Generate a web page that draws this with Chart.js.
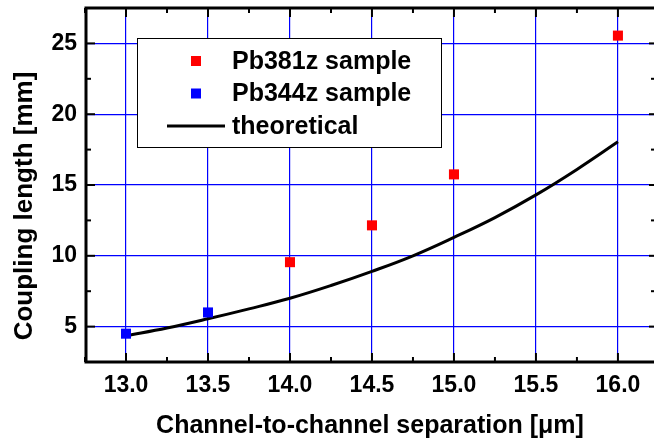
<!DOCTYPE html>
<html>
<head>
<meta charset="utf-8">
<script src="https://cdn.jsdelivr.net/npm/chart.js@4.4.0/dist/chart.umd.min.js"></script>
<style>
  html, body { margin: 0; padding: 0; background: #fff; }
  #wrap { width: 654px; height: 445px; }
</style>
</head>
<body>
<div id="wrap"><canvas id="couplingChart"></canvas></div>
<script>
// measured coupling lengths (mm) vs. channel separation (um)
const pb381zX = [14.0, 14.5, 15.0, 16.0];
const pb381zY = [9.55, 12.15, 15.75, 25.55];
const pb344zX = [13.0, 13.5];
const pb344zY = [4.5, 6.0];
// theoretical curve
const theoryX = [13.0, 13.25, 13.5, 13.75, 14.0, 14.25, 14.5, 14.75, 15.0, 15.25, 15.5, 15.75, 16.0];
const theoryY = [4.35, 4.9, 5.55, 6.25, 7.0, 7.9, 8.9, 10.0, 11.3, 12.7, 14.3, 16.1, 18.05];
// axis ticks
const xTicks = [13.0, 13.5, 14.0, 14.5, 15.0, 15.5, 16.0];
const xMinor = [12.75, 13.25, 13.75, 14.25, 14.75, 15.25, 15.75, 16.25];
const yTicks = [5, 10, 15, 20, 25];
const yMinor = [2.5, 7.5, 12.5, 17.5, 22.5, 27.5];
const yTitle = 'Coupling length [mm]';

const FONT = "'Liberation Sans', Arial, sans-serif";
const toPoints = (xs, ys) => xs.map((x, i) => ({ x: x, y: ys[i] }));

// axis frame with inward tick marks on all four sides, plus the y title
const frame = {
  id: 'frame',
  afterDraw(chart) {
    const { ctx, chartArea: a, scales: { x, y } } = chart;
    ctx.save();
    ctx.strokeStyle = '#000';
    ctx.lineWidth = 2;
    const tick = (x1, y1, x2, y2) => { ctx.beginPath(); ctx.moveTo(x1, y1); ctx.lineTo(x2, y2); ctx.stroke(); };
    xTicks.forEach(v => { const px = x.getPixelForValue(v); tick(px, a.bottom, px, a.bottom - 9); tick(px, a.top, px, a.top + 9); });
    xMinor.forEach(v => { const px = x.getPixelForValue(v); tick(px, a.bottom, px, a.bottom - 5); tick(px, a.top, px, a.top + 5); });
    yTicks.forEach(v => { const py = y.getPixelForValue(v); tick(a.left, py, a.left + 9, py); tick(a.right, py, a.right - 5, py); });
    yMinor.forEach(v => { const py = y.getPixelForValue(v); tick(a.left, py, a.left + 5, py); tick(a.right, py, a.right - 3, py); });
    ctx.lineWidth = 3;
    ctx.beginPath();
    ctx.moveTo(a.right + 2, a.top);
    ctx.lineTo(a.left, a.top);
    ctx.lineTo(a.left, a.bottom);
    ctx.lineTo(a.right + 2, a.bottom);
    ctx.stroke();

    // rotated y title, sitting a little below the plot centre
    ctx.translate(32, 206);
    ctx.rotate(-Math.PI / 2);
    ctx.font = 'bold 26px ' + FONT;
    ctx.fillStyle = '#000';
    ctx.textAlign = 'center';
    ctx.textBaseline = 'alphabetic';
    ctx.fillText(yTitle, 0, 0);
    ctx.restore();
  }
};

// boxed legend inside the plot
const legendBox = {
  id: 'legendBox',
  afterDatasetsDraw(chart) {
    const ctx = chart.ctx;
    const left = 137, top = 38, w = 304, h = 109;
    ctx.save();
    ctx.fillStyle = '#fff';
    ctx.fillRect(left, top, w, h);
    ctx.strokeStyle = '#000';
    ctx.lineWidth = 1;
    ctx.strokeRect(left + 0.5, top + 0.5, w, h);
    ctx.font = 'bold 25px ' + FONT;
    ctx.textBaseline = 'middle';
    ctx.textAlign = 'left';
    chart.data.datasets.forEach((ds, i) => {
      const cy = 61 + i * 32.5;
      if (ds.showLine) {
        ctx.strokeStyle = ds.borderColor;
        ctx.lineWidth = 3;
        ctx.beginPath();
        ctx.moveTo(167, cy);
        ctx.lineTo(225, cy);
        ctx.stroke();
      } else {
        ctx.fillStyle = ds.backgroundColor;
        ctx.fillRect(191, cy - 5, 10, 10);
      }
      ctx.fillStyle = '#000';
      ctx.fillText(ds.label, 232, cy + 1);
    });
    ctx.restore();
  }
};

new Chart(document.getElementById('couplingChart'), {
  type: 'scatter',
  data: {
    datasets: [
      {
        label: 'Pb381z sample',
        data: toPoints(pb381zX, pb381zY),
        backgroundColor: '#ff0000',
        borderWidth: 0,
        pointStyle: 'rect',
        pointRadius: 7.1,
        order: 1
      },
      {
        label: 'Pb344z sample',
        data: toPoints(pb344zX, pb344zY),
        backgroundColor: '#0000ff',
        borderWidth: 0,
        pointStyle: 'rect',
        pointRadius: 7.1,
        order: 1
      },
      {
        label: 'theoretical',
        data: toPoints(theoryX, theoryY),
        showLine: true,
        borderColor: '#000',
        borderWidth: 3,
        pointRadius: 0,
        tension: 0.4,
        order: 2
      }
    ]
  },
  options: {
    responsive: true,
    maintainAspectRatio: false,
    animation: false,
    layout: { autoPadding: false, padding: { top: 8, right: 0, left: 0, bottom: 0 } },
    plugins: { legend: { display: false }, tooltip: { enabled: false } },
    scales: {
      x: {
        type: 'linear',
        min: 12.756,
        max: 16.22,
        afterBuildTicks: s => { s.ticks = xTicks.map(v => ({ value: v })); },
        afterFit: s => { s.height = 83; s.paddingLeft = 0; s.paddingRight = 0; },
        grid: { color: '#0000ff', lineWidth: 1.2, drawTicks: false },
        border: { display: false },
        ticks: {
          color: '#000',
          padding: 10,
          maxRotation: 0,
          font: { family: FONT, size: 23, weight: 'bold' },
          callback: v => v.toFixed(1)
        },
        title: {
          display: true,
          text: 'Channel-to-channel separation [\u03bcm]',
          color: '#000',
          font: { family: FONT, size: 25, weight: 'bold' },
          padding: { top: 0, bottom: 4 }
        }
      },
      y: {
        type: 'linear',
        min: 2.5,
        max: 27.5,
        afterBuildTicks: s => { s.ticks = yTicks.map(v => ({ value: v })); },
        afterFit: s => { s.width = 86; s.paddingTop = 0; s.paddingBottom = 0; },
        grid: { color: '#0000ff', lineWidth: 1.2, drawTicks: false },
        border: { display: false },
        ticks: {
          color: '#000',
          padding: 9,
          font: { family: FONT, size: 23, weight: 'bold' }
        },
        title: { display: false }
      }
    }
  },
  plugins: [legendBox, frame]
});
</script>
</body>
</html>
